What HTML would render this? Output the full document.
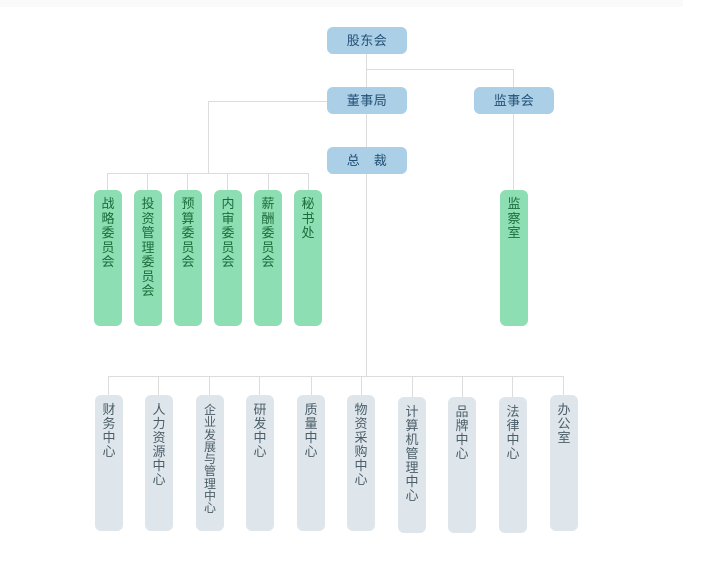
<!DOCTYPE html>
<html><head><meta charset="utf-8"><style>
html,body{margin:0;padding:0;background:#fff;}
body{width:709px;height:563px;position:relative;overflow:hidden;font-family:"Liberation Sans","Noto Sans CJK SC",sans-serif;}
.l{position:absolute;background:#dcdcdc;}
.t{position:absolute;width:80px;height:27px;background:#abcfe7;border-radius:6px;color:#234f74;font-size:13px;line-height:27px;text-align:center;letter-spacing:0.5px;}
.g{position:absolute;top:190px;width:28px;height:136px;background:#8ddfb3;border-radius:6px;color:#1d6b3c;font-size:13px;line-height:14.5px;text-align:center;box-sizing:border-box;padding-top:7px;}
.b{position:absolute;width:28px;height:136px;background:#dee6eb;border-radius:6px;color:#4b5d68;font-size:13px;line-height:14px;text-align:center;box-sizing:border-box;padding-top:8px;}
</style></head><body>
<div style="position:absolute;left:0;top:0;width:683px;height:7px;background:#fafafa;"></div>

<!-- connectors -->
<div class="l" style="left:366px;top:54px;width:1px;height:33px;"></div>
<div class="l" style="left:366px;top:69px;width:147px;height:1px;"></div>
<div class="l" style="left:513px;top:69px;width:1px;height:18px;"></div>
<div class="l" style="left:366px;top:114px;width:1px;height:33px;"></div>
<div class="l" style="left:208px;top:101px;width:119px;height:1px;"></div>
<div class="l" style="left:208px;top:101px;width:1px;height:72px;"></div>
<div class="l" style="left:107px;top:173px;width:202px;height:1px;"></div>
<div class="l" style="left:107px;top:173px;width:1px;height:17px;"></div>
<div class="l" style="left:147px;top:173px;width:1px;height:17px;"></div>
<div class="l" style="left:187px;top:173px;width:1px;height:17px;"></div>
<div class="l" style="left:227px;top:173px;width:1px;height:17px;"></div>
<div class="l" style="left:268px;top:173px;width:1px;height:17px;"></div>
<div class="l" style="left:308px;top:173px;width:1px;height:17px;"></div>
<div class="l" style="left:513px;top:114px;width:1px;height:76px;"></div>
<div class="l" style="left:366px;top:174px;width:1px;height:202px;"></div>
<div class="l" style="left:108px;top:376px;width:456px;height:1px;"></div>
<div class="l" style="left:108px;top:376px;width:1px;height:19px;"></div>
<div class="l" style="left:158px;top:376px;width:1px;height:19px;"></div>
<div class="l" style="left:209px;top:376px;width:1px;height:19px;"></div>
<div class="l" style="left:259px;top:376px;width:1px;height:19px;"></div>
<div class="l" style="left:311px;top:376px;width:1px;height:19px;"></div>
<div class="l" style="left:361px;top:376px;width:1px;height:19px;"></div>
<div class="l" style="left:412px;top:376px;width:1px;height:21px;"></div>
<div class="l" style="left:462px;top:376px;width:1px;height:21px;"></div>
<div class="l" style="left:512px;top:376px;width:1px;height:21px;"></div>
<div class="l" style="left:563px;top:376px;width:1px;height:19px;"></div>

<!-- top boxes -->
<div class="t" style="left:327px;top:27px;">股东会</div>
<div class="t" style="left:327px;top:87px;">董事局</div>
<div class="t" style="left:474px;top:87px;">监事会</div>
<div class="t" style="left:327px;top:147px;">总　裁</div>

<!-- green boxes -->
<div class="g" style="left:94px;">战<br>略<br>委<br>员<br>会</div>
<div class="g" style="left:134px;">投<br>资<br>管<br>理<br>委<br>员<br>会</div>
<div class="g" style="left:174px;">预<br>算<br>委<br>员<br>会</div>
<div class="g" style="left:214px;">内<br>审<br>委<br>员<br>会</div>
<div class="g" style="left:254px;">薪<br>酬<br>委<br>员<br>会</div>
<div class="g" style="left:294px;">秘<br>书<br>处</div>
<div class="g" style="left:500px;">监<br>察<br>室</div>

<!-- bottom boxes -->
<div class="b" style="left:95px;top:395px;">财<br>务<br>中<br>心</div>
<div class="b" style="left:145px;top:395px;">人<br>力<br>资<br>源<br>中<br>心</div>
<div class="b" style="left:196px;top:395px;font-size:12px;line-height:12.3px;padding-top:9px;">企<br>业<br>发<br>展<br>与<br>管<br>理<br>中<br>心</div>
<div class="b" style="left:246px;top:395px;">研<br>发<br>中<br>心</div>
<div class="b" style="left:297px;top:395px;">质<br>量<br>中<br>心</div>
<div class="b" style="left:347px;top:395px;">物<br>资<br>采<br>购<br>中<br>心</div>
<div class="b" style="left:398px;top:397px;">计<br>算<br>机<br>管<br>理<br>中<br>心</div>
<div class="b" style="left:448px;top:397px;">品<br>牌<br>中<br>心</div>
<div class="b" style="left:499px;top:397px;">法<br>律<br>中<br>心</div>
<div class="b" style="left:550px;top:395px;">办<br>公<br>室</div>
</body></html>
